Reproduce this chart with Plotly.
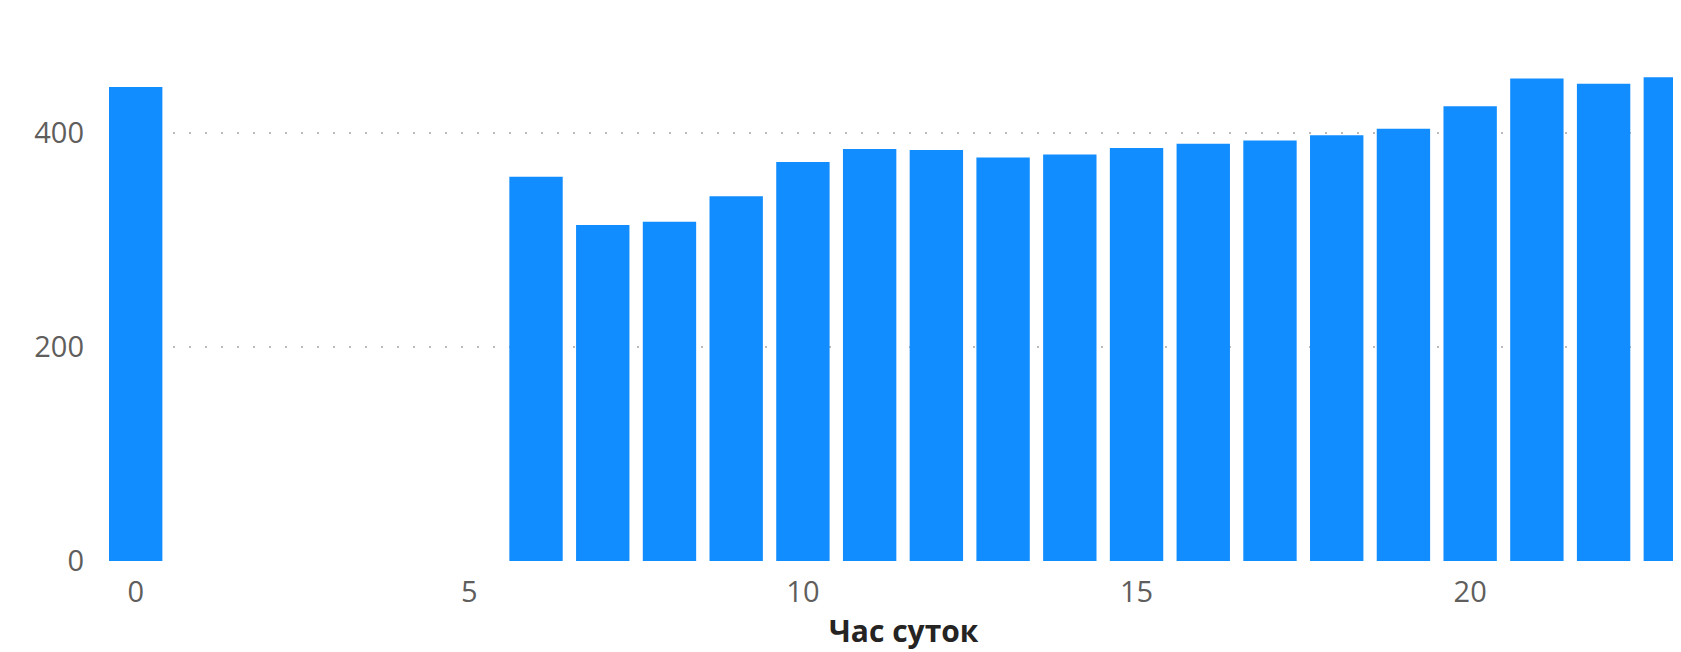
import plotly.graph_objects as go

hours = list(range(24))
visits = [443, None, None, None, None, None, 359, 314, 317, 341, 373, 385,
          384, 377, 380, 386, 390, 393, 398, 404, 425, 451, 446, 452]
x_ticks = [0, 5, 10, 15, 20]
y_ticks = [0, 200, 400]
x_title = "Час суток"

fig = go.Figure(go.Bar(x=hours, y=visits, marker_color="#118DFF",
                       marker_line_width=0))

# page body has an 8px default margin, so the figure is 8px smaller
fig.update_layout(
    width=1673, height=644,
    margin=dict(l=101, r=0, t=18, b=91),
    plot_bgcolor="white", paper_bgcolor="white",
    bargap=0.2, showlegend=False,
    font=dict(family="Open Sans, Noto Sans, sans-serif", size=29, color="#605E5C"),
)
fig.add_annotation(
    text=x_title, xref="paper", yref="paper", x=0.5057, y=-0.1295,
    xanchor="center", yanchor="middle", showarrow=False,
    font=dict(family="Open Sans, Noto Sans, sans-serif", size=30,
              color="#252423", weight="bold"),
)
fig.update_xaxes(
    range=[-0.4, 23.16], tickmode="array", tickvals=x_ticks,
    showgrid=False, zeroline=False, showline=False, ticks="",
    ticklabelstandoff=11,
)
fig.update_yaxes(
    range=[0, 500], tickmode="array", tickvals=y_ticks,
    showgrid=True, gridcolor="#BDBBB9", gridwidth=2, griddash="2px,14px",
    zeroline=False, showline=False, ticks="", ticklabelstandoff=24,
)

fig.write_html("out.html")
